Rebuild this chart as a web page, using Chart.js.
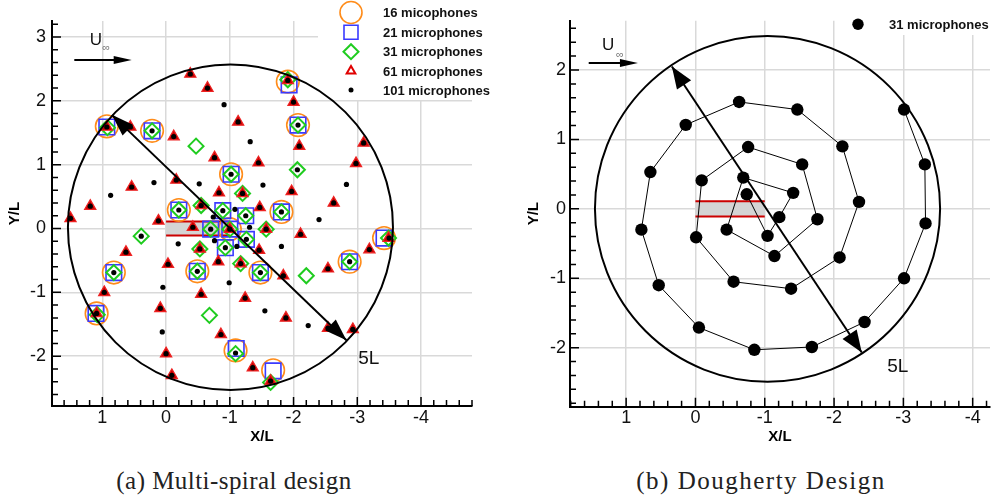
<!DOCTYPE html>
<html>
<head>
<meta charset="utf-8">
<script src="https://cdn.jsdelivr.net/npm/chart.js@4.4.1/dist/chart.umd.min.js"></script>
<style>
  html, body { margin: 0; padding: 0; background: #fff; width: 999px; height: 501px; overflow: hidden; }
  .panel { position: absolute; top: 0; height: 460px; }
  #panelA { left: 0; width: 500px; }
  #panelB { left: 500px; width: 499px; }
  .caption { position: absolute; top: 467px; font-family: "Liberation Serif", "Times New Roman", serif;
             font-size: 25px; line-height: 28px; color: #222; white-space: nowrap; transform: translateX(-50%); }
</style>
</head>
<body>
<div class="panel" id="panelA"><canvas id="chartA"></canvas></div>
<div class="panel" id="panelB"><canvas id="chartB"></canvas></div>
<div class="caption" style="left:234px; letter-spacing:0.45px">(a) Multi-spiral design</div>
<div class="caption" style="left:761px; letter-spacing:1.5px">(b) Dougherty Design</div>
<script>
// ---- Multi-spiral array: microphone positions (X/L, Y/L) for each subset ----
const mic16 = [
  [0.93, 1.60], [0.22, 1.53], [-1.02, 0.85], [-1.91, 2.30], [-2.07, 1.62], [-1.81, 0.26],
  [-0.20, 0.29], [-3.42, -0.15], [-2.88, -0.52], [-1.48, -0.69], [-1.68, -2.22], [1.09, -1.33],
  [0.82, -0.69], [-0.49, -0.67], [-1.09, -1.91], [-1.00, -0.01]
];
const mic21 = [
  [0.93, 1.59], [0.22, 1.53], [-1.02, 0.85], [-1.93, 2.25], [-2.07, 1.62], [-1.81, 0.26],
  [-0.20, 0.29], [-3.42, -0.15], [-2.88, -0.52], [-1.48, -0.69], [-1.68, -2.23], [1.10, -1.33],
  [0.82, -0.69], [-0.49, -0.67], [-1.10, -1.88], [-1.00, -0.01], [-0.89, 0.28], [-1.25, 0.20],
  [-0.70, -0.01], [-1.26, -0.17], [-0.93, -0.30]
];
const mic31 = [
  [0.92, 1.58], [0.22, 1.53], [-1.02, 0.85], [-1.91, 2.33], [-2.07, 1.62], [-1.81, 0.26],
  [-0.20, 0.29], [-3.49, -0.15], [-2.88, -0.52], [-1.48, -0.69], [-1.64, -2.41], [1.08, -1.35],
  [0.82, -0.69], [-0.49, -0.67], [-1.09, -1.96], [-1.00, -0.01], [-0.89, 0.28], [-1.25, 0.20],
  [-0.70, -0.01], [-1.26, -0.17], [-0.93, -0.30], [-0.47, 1.29], [-1.20, 0.55], [-0.55, 0.36],
  [-2.06, 0.92], [-1.57, -0.01], [-2.20, -0.74], [0.39, -0.12], [-0.53, -0.32], [-1.17, -0.55],
  [-0.68, -1.36]
];
const mic61 = [
  [0.93, 1.59], [-1.91, 2.32], [1.09, -1.33], [-1.64, -2.39], [-1.00, -0.01], [-3.49, -0.15],
  [-1.20, 0.55], [-0.55, 0.36], [-1.57, -0.01], [-0.53, -0.32], [-1.17, -0.55],
  [0.56, 1.59], [-0.12, 1.44], [-0.76, 1.11], [-0.38, 2.42], [-0.65, 2.20], [-1.13, 1.67],
  [-1.45, 1.03], [-0.83, 0.56], [-0.16, 0.76], [0.54, 0.65], [1.19, 0.35], [1.50, 0.16],
  [-2.00, 1.98], [-2.09, 1.29], [-1.97, 0.58], [-1.47, 0.33], [-3.10, 1.34], [-2.98, 1.02],
  [-2.63, 0.40], [-2.11, -0.09], [-1.46, -0.34], [-3.19, -0.33], [-2.54, -0.63], [-1.84, -0.74],
  [-1.24, -1.09], [-1.88, -1.40], [-2.54, -1.56], [-2.93, -1.58], [-1.36, -2.18], [0.97, -1.00],
  [0.63, -0.37], [0.12, 0.12], [-0.42, 0.02], [-0.82, -0.52], [-0.03, -0.56], [-0.55, -1.03],
  [0.09, -1.25], [-0.86, -1.66], [0.00, -1.96], [-0.09, -2.30]
];
const mic101 = [
  // shared with the 61-microphone subset
  [0.93, 1.59], [-1.91, 2.32], [1.09, -1.33], [-1.64, -2.39], [-1.00, -0.01], [-3.50, -0.15],
  [-1.20, 0.55], [-0.55, 0.36], [-1.57, -0.01], [-0.53, -0.32], [-1.17, -0.55],
  [0.56, 1.59], [-0.12, 1.44], [-0.76, 1.11], [-0.38, 2.42], [-0.65, 2.20], [-1.13, 1.67],
  [-1.45, 1.03], [-0.83, 0.56], [-0.16, 0.76], [0.54, 0.65], [1.19, 0.35], [1.50, 0.16],
  [-2.00, 1.98], [-2.09, 1.29], [-1.97, 0.58], [-1.47, 0.33], [-3.10, 1.34], [-2.98, 1.02],
  [-2.63, 0.40], [-2.11, -0.09], [-1.46, -0.34], [-3.19, -0.33], [-2.54, -0.63], [-1.84, -0.74],
  [-1.24, -1.09], [-1.88, -1.40], [-2.54, -1.56], [-2.93, -1.58], [-1.36, -2.18], [0.97, -1.00],
  [0.63, -0.37], [0.12, 0.12], [-0.42, 0.02], [-0.82, -0.52], [-0.03, -0.56], [-0.55, -1.03],
  [0.09, -1.25], [-0.86, -1.66], [0.00, -1.96], [-0.09, -2.30],
  // shared with the square / diamond subsets
  [0.22, 1.53], [-1.02, 0.85], [-2.07, 1.62], [-1.81, 0.26], [-0.20, 0.29], [-2.88, -0.52],
  [-1.48, -0.69], [0.82, -0.69], [-0.49, -0.67], [-1.09, -1.95], [-0.89, 0.28], [-1.25, 0.20],
  [-0.70, -0.01], [-1.26, -0.17], [-0.93, -0.30], [-2.06, 0.92], [0.39, -0.12],
  // remaining positions
  [-0.91, 1.94], [-1.32, 1.36], [-0.52, 0.70], [0.19, 0.72], [0.87, 0.52], [-1.08, 0.30],
  [-0.74, 0.18], [-1.52, 0.68], [-2.83, 0.69], [-2.40, 0.14], [-1.31, 0.02], [-1.81, -0.28],
  [-1.55, -1.29], [-2.23, -1.52], [-0.19, -0.24], [-0.76, -0.19], [-1.11, -0.28], [0.05, -0.92],
  [-0.99, -0.85], [0.06, -1.62]
];

// ---- Dougherty array: 31 microphones in spiral order ----
const dougherty = [
  [-0.74, 0.21], [-1.04, -0.39], [-1.21, -0.12], [-1.41, 0.23], [-0.69, 0.45], [-0.45, -0.30],
  [-1.14, -0.68], [-1.76, -0.15], [-1.54, 0.64], [-0.76, 0.89], [-0.09, 0.41], [-0.01, -0.41],
  [-0.55, -1.05], [-1.38, -1.15], [-2.08, -0.70], [-2.36, 0.10], [-2.12, 0.90], [-1.47, 1.43],
  [-0.63, 1.54], [0.14, 1.21], [0.65, 0.53], [0.78, -0.30], [0.53, -1.10], [-0.05, -1.71],
  [-0.85, -2.03], [-1.68, -1.99], [-2.44, -1.63], [-3.01, -1.00], [-3.32, -0.21], [-3.31, 0.64],
  [-3.01, 1.43]
];

// ---- tick labels ----
const xTicksA = [1, 0, -1, -2, -3, -4];
const yTicksA = [-2, -1, 0, 1, 2, 3];
const xTicksB = [1, 0, -1, -2, -3, -4];
const yTicksB = [-2, -1, 0, 1, 2];

const toXY = arr => arr.map(p => ({ x: p[0], y: p[1] }));

const ORANGE = '#ff8c1a', BLUE = '#3a3aff', GREEN = '#1fcc1f', RED = '#e00000';
const SANS = '"Liberation Sans", Arial, Helvetica, sans-serif';

Chart.defaults.font.family = SANS;
Chart.defaults.animation = false;

function drawMarker(ctx, style, x, y, r, stroke, fill, lw) {
  ctx.save();
  ctx.lineWidth = lw; ctx.strokeStyle = stroke; ctx.fillStyle = fill || 'transparent';
  ctx.beginPath();
  if (style === 'circle') ctx.arc(x, y, r, 0, Math.PI * 2);
  else if (style === 'rect') ctx.rect(x - r, y - r, 2 * r, 2 * r);
  else if (style === 'rectRot') { ctx.moveTo(x - r, y); ctx.lineTo(x, y - r); ctx.lineTo(x + r, y); ctx.lineTo(x, y + r); ctx.closePath(); }
  else if (style === 'triangle') {
    for (let k = 0; k < 3; k++) {
      const a = -Math.PI / 2 + k * 2 * Math.PI / 3;
      const px = x + r * Math.cos(a), py = y + r * Math.sin(a);
      k ? ctx.lineTo(px, py) : ctx.moveTo(px, py);
    }
    ctx.closePath();
  }
  if (fill) ctx.fill();
  if (stroke) ctx.stroke();
  ctx.restore();
}

function arrowHead(ctx, x1, y1, x2, y2, len, hw) {
  const a = Math.atan2(y2 - y1, x2 - x1), c = Math.cos(a), s = Math.sin(a);
  ctx.beginPath();
  ctx.moveTo(x2, y2);
  ctx.lineTo(x2 - len * c + hw * s, y2 - len * s - hw * c);
  ctx.lineTo(x2 - len * c - hw * s, y2 - len * s + hw * c);
  ctx.closePath();
  ctx.fill();
}

// Decorations: model plate, 5L ring with its diameter, flow direction, inward ticks, legend.
function makeDecor(cfg) {
  return {
    id: 'decor',
    beforeDatasetsDraw(chart) {
      const ctx = chart.ctx, xs = chart.scales.x, ys = chart.scales.y;
      ctx.save();
      ctx.fillStyle = '#fff';
      ctx.fillRect(...cfg.legendBox);
      const m = cfg.model;
      const x0 = xs.getPixelForValue(m.x0), x1 = xs.getPixelForValue(m.x1);
      const yT = ys.getPixelForValue(m.h), yB = ys.getPixelForValue(-m.h);
      ctx.fillStyle = '#d4d4d4';
      ctx.fillRect(Math.min(x0, x1), yT, Math.abs(x1 - x0), yB - yT);
      ctx.strokeStyle = '#cc0000'; ctx.lineWidth = 2;
      ctx.beginPath();
      ctx.moveTo(x0, yT); ctx.lineTo(x1, yT);
      ctx.moveTo(x0, yB); ctx.lineTo(x1, yB);
      ctx.stroke();
      ctx.restore();
    },
    afterDatasetsDraw(chart) {
      const ctx = chart.ctx, xs = chart.scales.x, ys = chart.scales.y, area = chart.chartArea;
      const P = (x, y) => [xs.getPixelForValue(x), ys.getPixelForValue(y)];
      ctx.save();
      // ring
      const [cx, cy] = P(cfg.ring.cx, cfg.ring.cy);
      const rx = Math.abs(xs.getPixelForValue(cfg.ring.cx + cfg.ring.r) - cx);
      const ry = Math.abs(ys.getPixelForValue(cfg.ring.cy + cfg.ring.r) - cy);
      ctx.strokeStyle = '#000'; ctx.fillStyle = '#000'; ctx.lineWidth = 2;
      ctx.beginPath(); ctx.ellipse(cx, cy, rx, ry, 0, 0, Math.PI * 2); ctx.stroke();
      // diameter arrow
      const [ax1, ay1] = P(cfg.diam[0], cfg.diam[1]);
      const [ax2, ay2] = P(cfg.diam[2], cfg.diam[3]);
      ctx.beginPath(); ctx.moveTo(ax1, ay1); ctx.lineTo(ax2, ay2); ctx.stroke();
      arrowHead(ctx, ax1, ay1, ax2, ay2, cfg.head[0], cfg.head[1]);
      arrowHead(ctx, ax2, ay2, ax1, ay1, cfg.head[0], cfg.head[1]);
      // flow arrow
      const [fx1, fy1] = P(cfg.flow[0], cfg.flow[1]);
      const [fx2, fy2] = P(cfg.flow[2], cfg.flow[3]);
      ctx.lineWidth = 2;
      ctx.beginPath(); ctx.moveTo(fx1, fy1); ctx.lineTo(fx2 - 8, fy2); ctx.stroke();
      arrowHead(ctx, fx1, fy1, fx2, fy2, 18, 4);
      // labels
      ctx.textAlign = 'center'; ctx.textBaseline = 'middle';
      ctx.fillStyle = '#111';
      ctx.font = '17px ' + SANS;
      let [tx, ty] = P(cfg.uPos[0], cfg.uPos[1]);
      ctx.fillText('U', tx, ty);
      [tx, ty] = P(cfg.infPos[0], cfg.infPos[1]);
      ctx.fillStyle = '#777'; ctx.font = '11px ' + SANS;
      ctx.fillText('\u221E', tx, ty);
      ctx.fillStyle = '#111'; ctx.font = '19px ' + SANS;
      [tx, ty] = P(cfg.lPos[0], cfg.lPos[1]);
      ctx.fillText('5L', tx, ty);
      // inward tick marks, major every unit and minor every 0.2
      ctx.strokeStyle = '#000'; ctx.lineWidth = 1.5;
      ctx.beginPath();
      for (let k = Math.ceil(xs.min / 0.2 - 1e-6); k * 0.2 <= xs.max + 1e-6; k++) {
        const v = k * 0.2, p = xs.getPixelForValue(v);
        const len = Math.abs(v - Math.round(v)) < 1e-6 ? 9 : 6;
        ctx.moveTo(p, area.bottom); ctx.lineTo(p, area.bottom - len);
      }
      for (let k = Math.ceil(ys.min / 0.2 - 1e-6); k * 0.2 <= ys.max + 1e-6; k++) {
        const v = k * 0.2, p = ys.getPixelForValue(v);
        const len = Math.abs(v - Math.round(v)) < 1e-6 ? 9 : 6;
        ctx.moveTo(area.left, p); ctx.lineTo(area.left + len, p);
      }
      ctx.stroke();
      // legend
      ctx.textAlign = 'left'; ctx.textBaseline = 'middle';
      ctx.font = 'bold 13px ' + SANS; ctx.fillStyle = '#111';
      cfg.legend.forEach(item => {
        drawMarker(ctx, item.style, item.mx, item.y, item.r, item.stroke, item.fill, item.lw);
        ctx.fillStyle = '#111';
        ctx.fillText(chart.data.datasets[item.ds].label, item.tx, item.y + 1);
      });
      ctx.restore();
    }
  };
}

function axisOptions(ticks, range, fitKey, fitVal, horizontal, titleText, titlePad, tickPad) {
  return {
    type: 'linear',
    reverse: horizontal,
    min: range[0], max: range[1],
    afterBuildTicks: s => { s.ticks = ticks.map(v => ({ value: v })); },
    afterFit: s => { s[fitKey] = fitVal; },
    grid: { color: '#d9d9d9', lineWidth: 1.5, drawTicks: false },
    border: { color: '#000', width: 2 },
    ticks: { padding: tickPad, color: '#111', font: { family: SANS, size: 18 },
             autoSkip: false, maxRotation: 0, callback: v => String(v) },
    title: { display: true, text: titleText, color: '#000',
             font: { family: SANS, size: 15, weight: 'bold' }, padding: titlePad }
  };
}

// ---- panel (a) ----
new Chart(document.getElementById('chartA'), {
  type: 'scatter',
  data: {
    datasets: [
      { label: '16 micophones', data: toXY(mic16), order: 4, pointStyle: 'circle', pointRadius: 11.3,
        pointBorderColor: ORANGE, pointBackgroundColor: 'rgba(0,0,0,0)', pointBorderWidth: 1.6 },
      { label: '21 microphones', data: toXY(mic21), order: 3, pointStyle: 'rect', pointRadius: 11,
        pointBorderColor: BLUE, pointBackgroundColor: 'rgba(0,0,0,0)', pointBorderWidth: 1.6 },
      { label: '31 microphones', data: toXY(mic31), order: 2, pointStyle: 'rectRot', pointRadius: 7.5,
        pointBorderColor: GREEN, pointBackgroundColor: 'rgba(0,0,0,0)', pointBorderWidth: 2 },
      { label: '61 microphones', data: toXY(mic61), order: 1, pointStyle: 'triangle', pointRadius: 6.5,
        pointBorderColor: '#ee2222', pointBackgroundColor: '#c80000', pointBorderWidth: 1.2 },
      { label: '101 microphones', data: toXY(mic101), order: 0, pointStyle: 'circle', pointRadius: 2.6,
        pointBorderColor: '#000', pointBackgroundColor: '#000', pointBorderWidth: 0 }
    ]
  },
  options: {
    responsive: true, maintainAspectRatio: false, events: [],
    layout: { padding: { left: 0, top: 21, right: 28, bottom: 0 } },
    plugins: { legend: { display: false }, tooltip: { enabled: false } },
    scales: {
      x: axisOptions(xTicksA, [-4.80, 1.79], 'height', 54, true, 'X/L', { top: 0, bottom: 14 }, 1),
      y: axisOptions(yTicksA, [-2.78, 3.25], 'width', 52, false, 'Y/L', { top: 6, bottom: 0 }, 6)
    }
  },
  plugins: [makeDecor({
    legendBox: [318, 0, 160, 100],
    model: { x0: 0, x1: -1, h: 0.11 },
    ring: { cx: -1.01, cy: 0.02, r: 2.55 },
    diam: [0.85, 1.78, -2.83, -1.75],
    head: [22, 7.5],
    flow: [1.44, 2.64, 0.54, 2.64],
    uPos: [1.10, 2.95], infPos: [0.94, 2.82],
    lPos: [-3.18, -2.04],
    legend: [
      { ds: 0, style: 'circle', mx: 351, y: 12.5, r: 11, stroke: ORANGE, lw: 1.6, tx: 383 },
      { ds: 1, style: 'rect', mx: 351, y: 32.2, r: 7, stroke: BLUE, lw: 1.6, tx: 383 },
      { ds: 2, style: 'rectRot', mx: 351, y: 51.7, r: 7.5, stroke: GREEN, lw: 2, tx: 383 },
      { ds: 3, style: 'triangle', mx: 351, y: 71, r: 5, stroke: RED, lw: 2, tx: 383 },
      { ds: 4, style: 'circle', mx: 351, y: 90, r: 2.5, stroke: null, fill: '#000', lw: 0, tx: 383 }
    ]
  })]
});

// ---- panel (b) ----
new Chart(document.getElementById('chartB'), {
  type: 'scatter',
  data: {
    datasets: [
      { label: '31 microphones', data: toXY(dougherty), showLine: true, borderColor: '#000', borderWidth: 1,
        pointStyle: 'circle', pointRadius: 6.2, pointBorderColor: '#000', pointBackgroundColor: '#000',
        pointBorderWidth: 0 }
    ]
  },
  options: {
    responsive: true, maintainAspectRatio: false, events: [],
    layout: { padding: { left: 0, top: 20.7, right: 9, bottom: 0 } },
    plugins: { legend: { display: false }, tooltip: { enabled: false } },
    scales: {
      x: axisOptions(xTicksB, [-4.25, 1.81], 'height', 53.3, true, 'X/L', { top: 0, bottom: 14 }, 1),
      y: axisOptions(yTicksB, [-2.85, 2.71], 'width', 70, false, 'Y/L', { top: 25, bottom: 0 }, 4)
    }
  },
  plugins: [makeDecor({
    legendBox: [343, 0, 150, 35],
    model: { x0: 0, x1: -1, h: 0.11 },
    ring: { cx: -1.04, cy: 0, r: 2.49 },
    diam: [0.34, 2.05, -2.40, -2.07],
    head: [22, 8.5],
    flow: [1.54, 2.10, 0.83, 2.10],
    uPos: [1.26, 2.36], infPos: [1.09, 2.22],
    lPos: [-2.92, -2.27],
    legend: [
      { ds: 0, style: 'circle', mx: 358, y: 24.3, r: 5.7, stroke: null, fill: '#000', lw: 0, tx: 389 }
    ]
  })]
});
</script>
</body>
</html>
